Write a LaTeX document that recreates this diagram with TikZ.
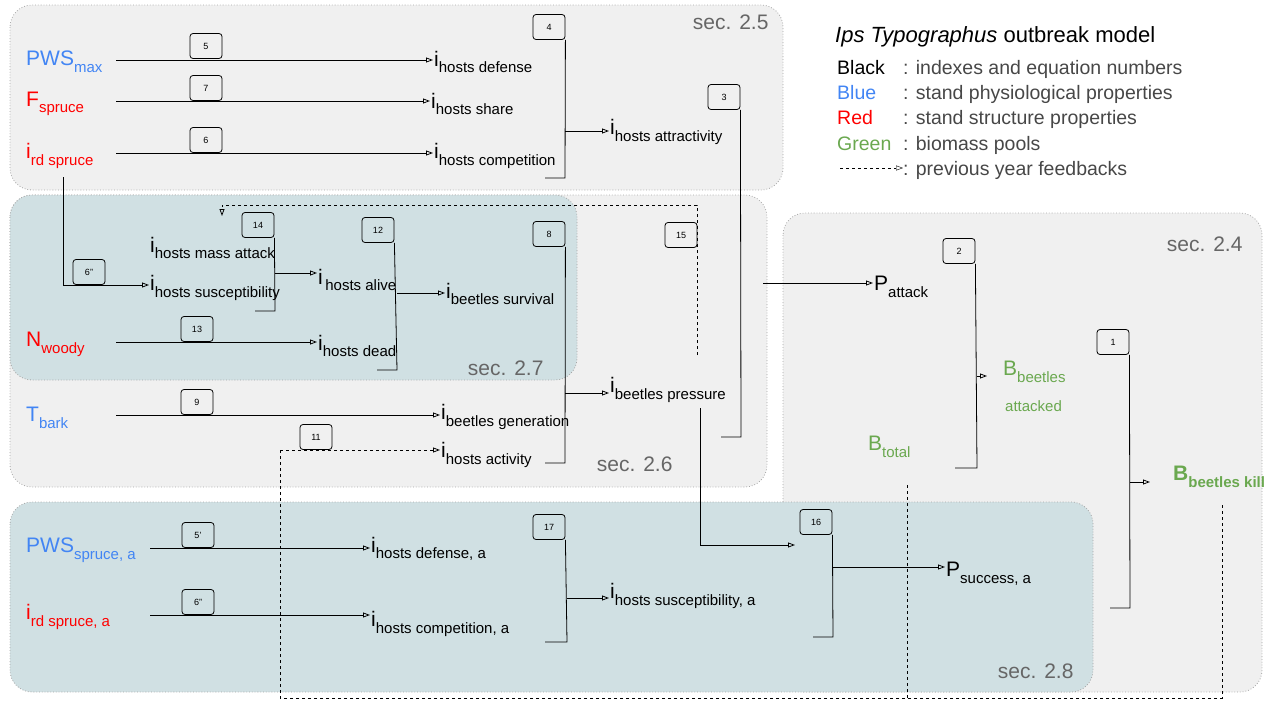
\documentclass[tikz,border=0pt]{standalone}
\usepackage{fontspec}
\setmainfont{Liberation Sans}
\usetikzlibrary{arrows.meta}
\definecolor{pblue}{RGB}{66,133,244}
\definecolor{pred}{RGB}{255,0,0}
\definecolor{pgreen}{RGB}{106,168,79}
\definecolor{secgray}{RGB}{240,240,240}
\definecolor{secblue}{RGB}{208,224,227}
\definecolor{seclbl}{RGB}{102,102,102}
\newcommand\idx[2]{#1\raisebox{-0.6ex}{\fontsize{15}{15}\selectfont #2}}
\tikzset{
  sec/.style={draw=gray!70,dotted,thick,rounded corners=22pt},
  seclabel/.style={anchor=base east,text=seclbl,font=\fontsize{21}{21}\selectfont},
  lbl/.style={anchor=west,inner sep=1pt,font=\fontsize{21}{22}\selectfont},
  eqn/.style={draw,thick,rounded corners=3pt,minimum width=32pt,minimum height=25pt,inner sep=0pt,font=\fontsize{9}{9}\selectfont},
  arr/.style={-{Triangle[open,length=7pt,width=5pt]},thick},
  brk/.style={thick},
  legend/.style={anchor=base west,inner sep=0pt,font=\fontsize{19.5}{20}\selectfont}
}
\begin{document}
\begin{tikzpicture}[x=1pt,y=1pt,yscale=-1]
\useasboundingbox (0,0) rectangle (1280,720);
% sections
\draw[sec,fill=secgray] (783,213) rectangle (1262,692);
\draw[sec,fill=secgray] (10,5) rectangle (783,190);
\draw[sec,fill=secgray] (10,195) rectangle (767,487);
\draw[sec,fill=secblue] (10,195) rectangle (577,380);
\draw[sec,fill=secblue] (10,502) rectangle (1093,692);
\node[seclabel] at (772,29) {sec. 2.5};
\node[seclabel] at (1246,251) {sec. 2.4};
\node[seclabel] at (547,375) {sec. 2.7};
\node[seclabel] at (676,471) {sec. 2.6};
\node[seclabel] at (1077,678) {sec. 2.8};
% legend
\node[legend] at (835,42) {\fontsize{22}{22}\selectfont\textit{Ips Typographus} outbreak model};
\node[legend] at (837,74) {Black};
\node[legend,text=pblue] at (837,99) {Blue};
\node[legend,text=pred] at (837,124) {Red};
\node[legend,text=pgreen] at (837,150) {Green};
\node[legend,text=seclbl!70!black] at (903,74) {: indexes and equation numbers};
\node[legend,text=seclbl!70!black] at (903,99) {: stand physiological properties};
\node[legend,text=seclbl!70!black] at (903,124) {: stand structure properties};
\node[legend,text=seclbl!70!black] at (903,150) {: biomass pools};
\node[legend,text=seclbl!70!black] (fbtext) at (903,175) {: previous year feedbacks};
\coordinate (fb) at (840,168);
\draw[arr,dashed,thin] (fb) -- (fbtext.west |- fb);

% inputs
\node[lbl,text=pblue] (pwsmax) at (25,62) {\idx{PWS}{max}};
\node[lbl,text=pred] (fspruce) at (25,104) {\idx{F}{spruce}};
\node[lbl,text=pred] (irdspruce) at (25,156) {\idx{i}{rd spruce}};
\node[lbl,text=pred] (nwoody) at (25,344) {\idx{N}{woody}};
\node[lbl,text=pblue] (tbark) at (25,418) {\idx{T}{bark}};
\node[lbl,text=pblue] (pwsa) at (25,550) {\idx{PWS}{spruce, a}};
\node[lbl,text=pred] (irda) at (25,617) {\idx{i}{rd spruce, a}};

% indexes
\node[lbl] (defense) at (433,62) {\idx{i}{hosts defense}};
\node[lbl] (share) at (430,104) {\idx{i}{hosts share}};
\node[lbl] (competition) at (433,156) {\idx{i}{hosts competition}};
\node[lbl] (attractivity) at (609,132) {\idx{i}{hosts attractivity}};
\node[lbl] (massattack) at (149,248) {\idx{i}{hosts mass attack}};
\node[lbl] (suscept) at (149,288) {\idx{i}{hosts susceptibility}};
\node[lbl] (alive) at (317,280) {\idx{i}{\,hosts alive}};
\node[lbl] (survival) at (445,294) {\idx{i}{beetles survival}};
\node[lbl] (dead) at (317,346) {\idx{i}{hosts dead}};
\node[lbl] (pressure) at (609,390) {\idx{i}{beetles pressure}};
\node[lbl] (generation) at (440,417) {\idx{i}{beetles generation}};
\node[lbl] (activity) at (440,455) {\idx{i}{hosts activity}};
\node[lbl] (defensea) at (370,549) {\idx{i}{hosts defense, a}};
\node[lbl] (competitiona) at (370,624) {\idx{i}{hosts competition, a}};
\node[lbl] (suscepta) at (609,596) {\idx{i}{hosts susceptibility, a}};
\node[lbl] (pattack) at (873,287) {\idx{P}{attack}};
\node[lbl] (psuccess) at (945,574) {\idx{P}{success, a}};
\node[lbl,text=pgreen] (battacked) at (1002,372) {\idx{B}{beetles}};
\node[anchor=base west,inner sep=0pt,text=pgreen,font=\fontsize{15}{15}\selectfont] at (1005,411) {attacked};
\node[lbl,text=pgreen] (btotal) at (867,447) {\idx{B}{total}};
\node[lbl,text=pgreen,font=\fontsize{21}{22}\selectfont\bfseries] (bkill) at (1172,477) {\idx{B}{beetles kill}};

% direct links
\draw[arr] (116,60) -- (defense.west |- 0,60);
\draw[arr] (116,101) -- (share.west |- 0,101);
\draw[arr] (116,153) -- (competition.west |- 0,153);
\draw[arr] (116,342) -- (dead.west |- 0,342);
\draw[arr] (116,415) -- (generation.west |- 0,415);
\draw[arr] (150,548) -- (defensea.west |- 0,548);
\draw[arr] (150,615) -- (competitiona.west |- 0,615);
\draw[arr] (63,177) -- (63,285) -- (suscept.west |- 0,285);
\node[eqn] at (206,46) {5};
\node[eqn] at (206,88) {7};
\node[eqn] at (206,140) {6};
\node[eqn] at (89,272) {6''};
\node[eqn] at (197,329) {13};
\node[eqn] at (197,402) {9};
\node[eqn] at (198,535) {5'};
\node[eqn] at (198,602) {6''};

% brackets
\node[eqn] (e4) at (549,27) {4};
\draw[brk] (e4.south east) -- (565,178) -- (545,178);
\draw[arr] (565,131) -- (attractivity.west |- 0,131);
\node[eqn] (e3) at (724,97) {3};
\draw[brk] (e3.south east) -- (741,437) -- (721,437);
\draw[arr] (763,283) -- (pattack.west |- 0,283);
\node[eqn] (e14) at (258,225) {14};
\draw[brk] (e14.south east) -- (275,311) -- (255,311);
\draw[arr] (275,273) -- (alive.west |- 0,273);
\node[eqn] (e12) at (378,230) {12};
\draw[brk] (e12.south east) -- (397,370) -- (377,370);
\draw[arr] (397,293) -- (survival.west |- 0,293);
\node[eqn] (e8) at (549,234) {8};
\draw[brk] (e8.south east) -- (565,463) -- (545,463);
\draw[arr] (565,393) -- (pressure.west |- 0,393);
\draw[arr] (700,408) -- (700,545) -- (795,545);
\node[eqn] (e16) at (816,522) {16};
\draw[brk] (e16.south east) -- (833,637) -- (813,637);
\draw[arr] (833,567) -- (psuccess.west |- 0,567);
\node[eqn] (e17) at (549,527) {17};
\draw[brk] (e17.south east) -- (567,642) -- (545,642);
\draw[arr] (567,598) -- (suscepta.west |- 0,598);
\node[eqn] (e2) at (959,251) {2};
\draw[brk] (e2.south east) -- (977,468) -- (955,468);
\draw[arr] (977,376) -- (987,376);
\node[eqn] (e1) at (1113,342) {1};
\draw[brk] (e1.south east) -- (1130,608) -- (1110,608);
\draw[arr] (1130,482) -- (1150,482);

% feedbacks
\draw[arr,dashed] (697,355) -- (697,205) -- (222,205) -- (222,216);
\node[eqn] at (681,235) {15};
\draw[thick,dashed] (1222,505) -- (1222,698) -- (280,698) -- (280,450);
\draw[arr,dashed] (280,450) -- (activity.west |- 0,450);
\node[eqn] at (316,437) {11};
\draw[thick,dashed] (907,485) -- (907,698);
\end{tikzpicture}
\end{document}
